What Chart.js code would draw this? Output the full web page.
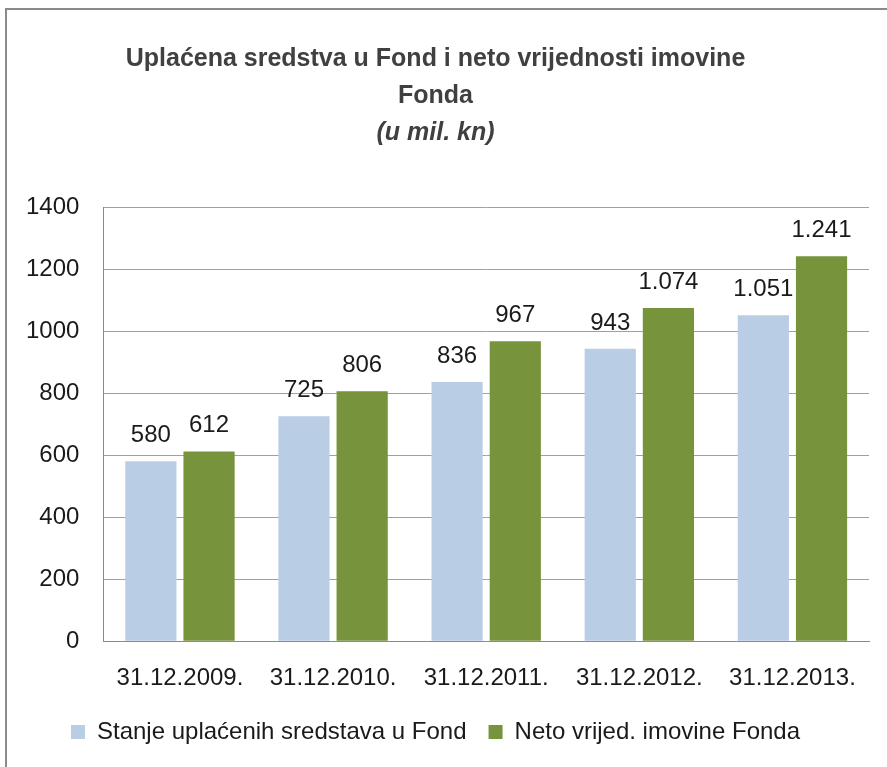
<!DOCTYPE html>
<html>
<head>
<meta charset="utf-8">
<script src="https://cdn.jsdelivr.net/npm/chart.js@4.4.1/dist/chart.umd.min.js"></script>
<style>
  html, body { margin: 0; padding: 0; background: #fff; overflow: hidden; }
  #wrap { position: absolute; left: 0; top: 0; width: 887px; height: 767px; }
  #frame { position: absolute; left: 5px; top: 8px; width: 900px; height: 800px;
           border-left: 2px solid #8a8a8a; border-top: 2px solid #8a8a8a; pointer-events: none; }
</style>
</head>
<body>
<div id="wrap">
  <canvas id="myChart" width="887" height="767"></canvas>
  <div id="frame"></div>
</div>
<script>
let categories = ['31.12.2009.', '31.12.2010.', '31.12.2011.', '31.12.2012.', '31.12.2013.'];
let uplaceno = [580, 725, 836, 943, 1051];
let netoImovina = [612, 806, 967, 1074, 1241];
let seriesNames = ['Stanje uplaćenih sredstava u Fond', 'Neto vrijed. imovine Fonda'];
let titleLines = ['Uplaćena sredstva u Fond i neto vrijednosti imovine', 'Fonda'];
let subtitleText = '(u mil. kn)';

let fontFamily = '"Liberation Sans", Arial, sans-serif';
let fmt = (v) => String(v).replace(/\B(?=(\d{3})+(?!\d))/g, '.');

// draws the value above each bar
let valueLabels = {
  id: 'valueLabels',
  afterDatasetsDraw(chart) {
    let ctx = chart.ctx;
    ctx.save();
    ctx.font = '24px ' + fontFamily;
    ctx.fillStyle = '#1a1a1a';
    ctx.textAlign = 'center';
    ctx.textBaseline = 'alphabetic';
    chart.data.datasets.forEach((ds, i) => {
      chart.getDatasetMeta(i).data.forEach((bar, j) => {
        ctx.fillText(fmt(ds.data[j]), bar.x, bar.y - 19);
      });
    });
    ctx.restore();
  }
};

let ctx = document.getElementById('myChart').getContext('2d');
let chart = new Chart(ctx, {
  type: 'bar',
  data: {
    labels: categories,
    datasets: [{
      label: seriesNames[0],
      backgroundColor: '#b9cde5',
      data: uplaceno
    }, {
      label: seriesNames[1],
      backgroundColor: '#77933c',
      data: netoImovina
    }]
  },
  options: {
    responsive: false,
    animation: false,
    categoryPercentage: 0.76,
    barPercentage: 0.88,
    layout: { padding: { left: 2, right: 18, top: 0, bottom: 13 } },
    plugins: {
      title: {
        display: true,
        text: titleLines,
        color: '#404040',
        font: { family: fontFamily, size: 25, weight: 'bold', lineHeight: 1.48 },
        padding: { top: 41, bottom: 0 }
      },
      subtitle: {
        display: true,
        text: subtitleText,
        color: '#404040',
        font: { family: fontFamily, size: 25, weight: 'bold', style: 'italic', lineHeight: 1.48 },
        padding: { top: 0, bottom: 55 }
      },
      legend: {
        position: 'bottom',
        labels: {
          color: '#1a1a1a',
          font: { family: fontFamily, size: 24 },
          boxWidth: 14,
          boxHeight: 14,
          padding: 22
        }
      },
      tooltip: { enabled: false }
    },
    scales: {
      x: {
        grid: { display: false, drawTicks: false },
        border: { display: true, color: '#8a8a8a', width: 1 },
        ticks: {
          color: '#1a1a1a',
          padding: 23,
          font: { family: fontFamily, size: 24 }
        },
        // pull the legend a bit closer to the date labels
        afterFit: (scale) => { scale.height = scale.height - 18; }
      },
      y: {
        min: 0,
        max: 1400,
        grid: { color: '#a0a0a0', drawTicks: false },
        border: { display: true, color: '#8a8a8a', width: 1 },
        ticks: {
          stepSize: 200,
          color: '#1a1a1a',
          padding: 24,
          font: { family: fontFamily, size: 24 },
          callback: (v) => String(v)
        }
      }
    }
  },
  plugins: [valueLabels]
});
</script>
</body>
</html>
